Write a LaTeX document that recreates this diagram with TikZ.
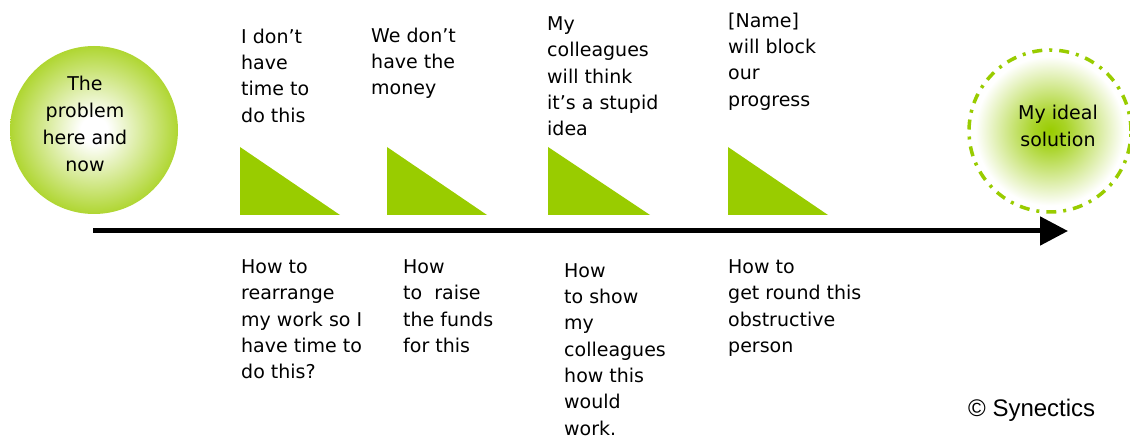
\documentclass[tikz,border=0pt]{standalone}
\usepackage{fontspec}
\setmainfont{DejaVu Sans}
\newfontfamily\arialfont{Liberation Sans}
\usetikzlibrary{arrows.meta}
\definecolor{synlime}{RGB}{153,204,0}
\definecolor{synedge}{RGB}{160,206,10}
\pgfdeclareradialshading{nowshade}{\pgfpoint{0bp}{0bp}}{color(0bp)=(white); color(4bp)=(white); color(29bp)=(synedge); color(50bp)=(synedge)}
\pgfdeclareradialshading{idealshade}{\pgfpoint{0bp}{0bp}}{color(0bp)=(synlime); color(5bp)=(synlime!85!white); color(23bp)=(white); color(50bp)=(white)}
\tikzset{
  lbl/.style={font=\fontsize{19}{26.3}\selectfont, align=left, anchor=north west, inner sep=0pt, execute at begin node=\strut},
  balltxt/.style={font=\fontsize{19}{27}\selectfont, align=center, anchor=north, inner sep=0pt, execute at begin node=\strut},
  flag/.style={fill=synlime},
  timeline/.style={line width=5pt, -{Triangle[length=28pt,width=28pt]}},
  nowball/.style={circle, minimum size=168pt, inner sep=0pt, shade, shading=nowshade},
  idealball/.style={circle, minimum size=162pt, inner sep=0pt, shade, shading=idealshade, draw=synlime, line width=3.5pt, dash pattern=on 10pt off 7pt on 3pt off 7pt},
}
\begin{document}
\begin{tikzpicture}[x=1pt,y=-1pt]
\useasboundingbox (0,0) rectangle (1130,443);
% circles
\node[nowball] (now) at (94,130) {};
\node[balltxt] (nowtxt) at (85,75.6) {The\\problem\\here and\\now};
\node[idealball] (ideal) at (1050,131) {};
\node[balltxt] (idealtxt) at (1058,104.6) {My ideal\\solution};
% timeline
\coordinate (tlstart) at (93,231);
\coordinate (tlend) at (1068,231);
\draw[timeline] (tlstart) -- (tlend);
% flags
\fill[flag] (240,147) -- (240,215) -- (340,215) -- cycle;
\fill[flag] (387,147) -- (387,215) -- (487,215) -- cycle;
\fill[flag] (548,147) -- (548,215) -- (650,215) -- cycle;
\fill[flag] (728,147) -- (728,215) -- (828,215) -- cycle;
% obstacles
\node[lbl] (t1) at (241,28.6) {I don’t\\have\\time to\\do this};
\node[lbl] (t2) at (371,27.6) {We don’t\\have the\\money};
\node[lbl] (t3) at (547,16.6) {My\\colleagues\\will think\\it’s a stupid\\idea};
\node[lbl] (t4) at (728,12.6) {[Name]\\will block\\our\\progress};
% how-tos
\node[lbl] (b1) at (241,259.6) {How to\\rearrange\\my work so I\\have time to\\do this?};
\node[lbl] (b2) at (403,259.6) {How\\to\ \ raise\\the funds\\for this};
\node[lbl] (b3) at (564,263.3) {How\\to show\\my\\colleagues\\how this\\would\\work.};
\node[lbl] (b4) at (728,259.6) {How to\\get round this\\obstructive\\person};
% credit
\node[anchor=base west, inner sep=0pt, font=\arialfont\fontsize{24}{28}\selectfont] (credit) at (968,417) {© Synectics};
\end{tikzpicture}
\end{document}
